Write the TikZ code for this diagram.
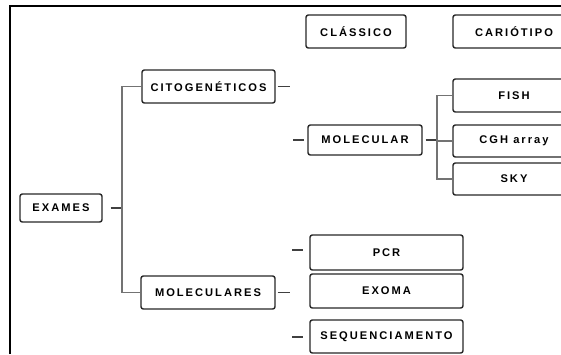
\documentclass[tikz,border=0pt]{standalone}
\usepackage{fontspec}
\setmainfont{Liberation Sans}[LetterSpace=18]
\usepackage{tikz}
\usetikzlibrary{positioning}

\begin{document}
\begin{tikzpicture}[x=0.03cm, y=-0.03cm,
    caixa/.style={draw=black!85, line width=1.2pt, rounded corners=2pt, align=center,
                  inner sep=0pt, font=\fontsize{9.5}{10}\selectfont\bfseries},
    ramo/.style={draw=black!55, line width=0.9pt},
    toco/.style={draw=black!75, line width=0.9pt}]
            \useasboundingbox (0,0) rectangle (561,354);
            % Moldura
            \draw[line width=1.1pt] (10,354) -- (10,6) -- (561,6);

            % Raiz
            \node[caixa, minimum width=82*0.03cm, minimum height=28*0.03cm] (exames) at (61,208) {EXAMES};

            % Primeiro nivel
            \node[caixa, minimum width=133*0.03cm, minimum height=33*0.03cm] (cito) at (208.5,86.5) {CITOGENÉTICOS};
            \node[caixa, minimum width=134*0.03cm, minimum height=33*0.03cm] (molecs) at (208,292.5) {MOLECULARES};

            % Citogeneticos
            \node[caixa, minimum width=100*0.03cm, minimum height=33*0.03cm] (classico) at (356,31.5) {CLÁSSICO};
            \node[caixa, minimum width=122*0.03cm, minimum height=33*0.03cm] (cariotipo) at (514,31.5) {CARIÓTIPO};
            \node[caixa, minimum width=114*0.03cm, minimum height=30*0.03cm] (molecular) at (365,140) {MOLECULAR};
            \node[caixa, minimum width=122*0.03cm, minimum height=33*0.03cm] (fish) at (514,95.5) {FISH};
            \node[caixa, minimum width=122*0.03cm, minimum height=32*0.03cm] (cgh) at (514,141) {CGH array};
            \node[caixa, minimum width=122*0.03cm, minimum height=32*0.03cm] (sky) at (514,179) {SKY};

            % Moleculares
            \node[caixa, minimum width=153*0.03cm, minimum height=35*0.03cm] (pcr) at (386.5,252.5) {PCR};
            \node[caixa, minimum width=153*0.03cm, minimum height=34*0.03cm] (exoma) at (386.5,291) {EXOMA};
            \node[caixa, minimum width=153*0.03cm, minimum height=33*0.03cm] (seq) at (386.5,336.5) {SEQUENCIAMENTO};

            % Ligacoes
            \coordinate (j1) at (122,208);
            \draw[toco, shorten <=8*0.03cm] (exames.east) -- (j1);
            \draw[ramo] (cito.west) -- (cito.west -| j1) -- (molecs.west -| j1) -- (molecs.west);

            \coordinate (c1) at (290,86.5);
            \coordinate (c2) at (293,140);
            \draw[toco, shorten <=2*0.03cm] (cito.east) -- (c1);
            \draw[toco, shorten >=3*0.03cm] (c2) -- (molecular.west);

            \coordinate (j2) at (437,140);
            \draw[toco, shorten <=3*0.03cm] (molecular.east) -- (j2);
            \draw[ramo] (fish.west) -- (fish.west -| j2) -- (sky.west -| j2) -- (sky.west);
            \draw[ramo] (cgh.west) -- (cgh.west -| j2);

            \coordinate (c3) at (290,292.5);
            \coordinate (c4) at (292,250);
            \coordinate (c5) at (292,337);
            \draw[toco, shorten <=2*0.03cm] (molecs.east) -- (c3);
            \draw[toco, shorten >=6*0.03cm] (c4) -- (c4 -| pcr.west);
            \draw[toco, shorten >=6*0.03cm] (c5) -- (c5 -| seq.west);
\end{tikzpicture}
\end{document}
